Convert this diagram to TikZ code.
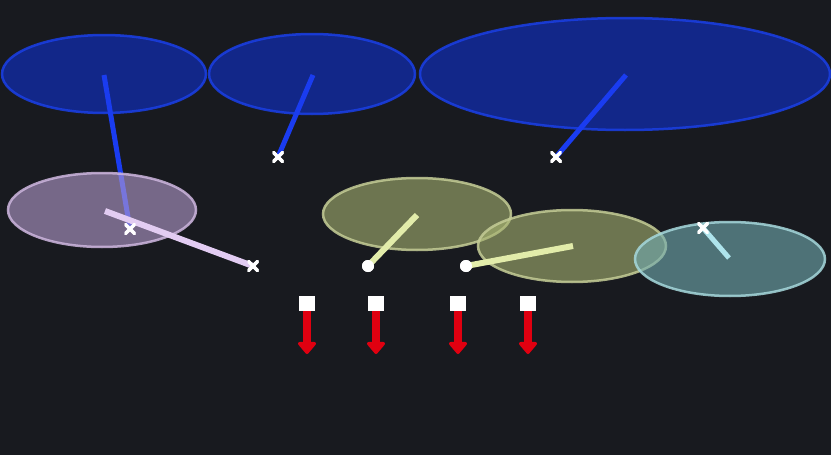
\documentclass[tikz,border=0pt]{standalone}
\usetikzlibrary{arrows.meta}
\definecolor{bg}{HTML}{181A1F}
\definecolor{bluefill}{RGB}{14,49,209}
\definecolor{blueedge}{HTML}{1A3FE6}
\definecolor{blueline}{HTML}{1A3CF0}
\definecolor{purfill}{RGB}{182,156,206}
\definecolor{puredge}{HTML}{CDB6DE}
\definecolor{purline}{HTML}{E2CCF2}
\definecolor{grnfill}{RGB}{167,179,113}
\definecolor{grnedge}{HTML}{C4CC96}
\definecolor{grnline}{HTML}{E2ECAA}
\definecolor{cyfill}{RGB}{114,173,179}
\definecolor{cyedge}{HTML}{A6D8DC}
\definecolor{cyline}{HTML}{AEE4EC}
\definecolor{redarrow}{HTML}{E00010}
\tikzset{
  ell/.style={line width=2.5pt, fill opacity=0.6, draw opacity=0.85},
  blueell/.style={ell, draw=blueedge, fill=bluefill},
  purell/.style={ell, draw=puredge, fill=purfill},
  grnell/.style={ell, draw=grnedge, fill=grnfill},
  cyell/.style={ell, draw=cyedge, fill=cyfill},
  stick/.style={line width=5pt},
  xmark/.style={inner sep=0pt, minimum size=11pt, path picture={
      \draw[white, line width=3.5pt] (path picture bounding box.north west) -- (path picture bounding box.south east);
      \draw[white, line width=3.5pt] (path picture bounding box.north east) -- (path picture bounding box.south west);}},
  dotmark/.style={circle, fill=white, inner sep=0pt, minimum size=12pt},
  sqmark/.style={rectangle, fill=white, inner sep=0pt, minimum width=16pt, minimum height=15pt},
  redarr/.style={draw=redarrow, line width=8pt, -{Triangle[width=21pt,length=13pt,round]}, redarrow}
}
\begin{document}
\begin{tikzpicture}[x=1pt,y=-1pt]
\fill[bg] (0,0) rectangle (831,455);
\useasboundingbox (0,0) rectangle (831,455);
% blue ellipses
\draw[blueell] (104,74) ellipse [x radius=102, y radius=39];
\draw[blueell] (312,74) ellipse [x radius=103, y radius=40];
\draw[blueell] (625,74) ellipse [x radius=205, y radius=56];
\coordinate (b1) at (104,75);
\coordinate (b2) at (313,75);
\coordinate (b3) at (626,75);
\node[xmark] (x1) at (130,229) {};
\node[xmark] (x2) at (278,157) {};
\node[xmark] (x3) at (556,157) {};
\draw[stick, blueline] (b1) -- (x1.center);
\draw[stick, blueline] (b2) -- (x2.center);
\draw[stick, blueline] (b3) -- (x3.center);
% purple
\draw[purell] (102,210) ellipse [x radius=94, y radius=37];
\coordinate (p1) at (105,211);
\node[xmark] (x4) at (253,266) {};
\draw[line width=6pt, purline] (p1) -- (x4.center);
% green
\draw[grnell] (417,214) ellipse [x radius=94, y radius=36];
\draw[grnell] (572,246) ellipse [x radius=94, y radius=36];
\coordinate (g1) at (417,215);
\coordinate (g2) at (573,246);
\node[dotmark] (d1) at (368,266) {};
\node[dotmark] (d2) at (466,266) {};
\draw[line width=6pt, grnline] (g1) -- (d1.center);
\draw[line width=6pt, grnline] (g2) -- (d2.center);
\node[dotmark] at (d1) {};
\node[dotmark] at (d2) {};
% cyan
\draw[cyell] (730,259) ellipse [x radius=95, y radius=37];
\coordinate (c1) at (729,258);
\node[xmark] (x5) at (703,228) {};
\draw[stick, cyline] (x5.center) -- (c1);
% marks on top
\node[xmark] at (x1) {};
\node[xmark] at (x2) {};
\node[xmark] at (x3) {};
\node[xmark] at (x4) {};
\node[xmark] at (x5) {};
% red arrows
\foreach \i/\xx in {1/307,2/376,3/458,4/528}{
  \node[sqmark] (s\i) at (\xx,303.5) {};
  \coordinate (t\i) at (\xx,354);
  \draw[redarr] (s\i.south) -- (t\i);
}
\end{tikzpicture}
\end{document}
